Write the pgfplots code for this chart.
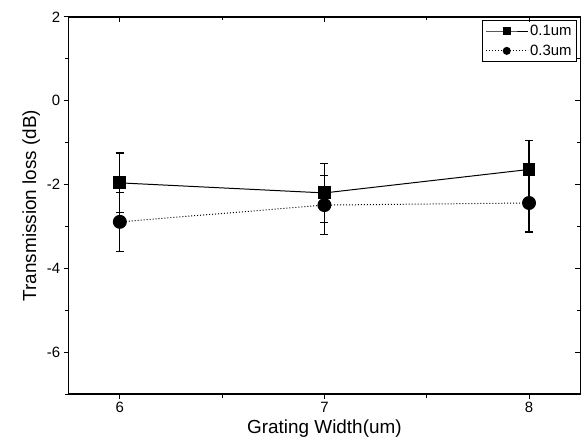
\documentclass[border=0pt]{standalone}
\usepackage{pgfplots}
\pgfplotsset{compat=1.18}
\usepackage{fontspec}
\setmainfont{Liberation Sans}

\pgfplotstableread{
x y e
6 -1.96 0.71
7 -2.20 0.70
8 -1.64 0.69
}\thinone
\pgfplotstableread{
x y e
6 -2.89 0.70
7 -2.49 0.70
8 -2.44 0.69
}\thickone

\begin{document}
\begin{tikzpicture}
\begin{axis}[name=main, scale only axis, width=514pt, height=379pt,
  xmin=5.75, xmax=8.25, ymin=-7, ymax=2,
  xtick={6,7,8}, minor xtick={6.5,7.5},
  ytick={-6,-4,-2,0,2}, minor ytick={-7,-5,-3,-1,1},
  tick align=outside, xtick pos=bottom, ytick pos=left,
  major tick length=5pt, minor tick length=3.5pt,
  every tick/.style={black, line width=1pt},
  axis line style={line width=1.2pt},
  ticklabel style={font=\fontsize{15}{18}\selectfont},
  /pgf/number format/assume math mode=true,
  label style={font=\fontsize{19}{22}\selectfont},
  xlabel={Grating Width(um)}, ylabel={Transmission loss (dB)},
  legend style={at={(rel axis cs:0.994,0.993)}, anchor=north east,
    draw=black, line width=1pt, font=\fontsize{15}{18}\selectfont,
    inner sep=3pt, row sep=4pt},
  legend cell align=left,
  legend image code/.code={\draw[mark repeat=2, mark phase=2, mark size=3.5pt]
    plot coordinates {(0pt,0pt)(21pt,0pt)(42pt,0pt)};},
]
\addplot[black, line width=1pt, mark=square*, mark size=6pt,
  error bars/.cd, y dir=both, y explicit,
  error bar style={line width=1.3pt},
  error mark options={rotate=90, mark size=4pt, line width=1.3pt}]
  table[x=x, y=y, y error=e] {\thinone};
\addlegendentry{0.1um}
\addplot[black, line width=1pt, dash pattern=on 1pt off 2pt, mark=*, mark size=6.5pt, mark options={solid},
  error bars/.cd, y dir=both, y explicit,
  error bar style={line width=1.3pt, solid},
  error mark options={rotate=90, mark size=4pt, line width=1.3pt, solid}]
  table[x=x, y=y, y error=e] {\thickone};
\addlegendentry{0.3um}
\end{axis}
\begin{axis}[at={(main.south west)}, anchor=south west, scale only axis, width=514pt, height=379pt,
  xmin=5.75, xmax=8.25, ymin=-7, ymax=2,
  xtick={6,7,8}, minor xtick={6.5,7.5},
  ytick={-6,-4,-2,0,2}, minor ytick={-7,-5,-3,-1,1},
  tick align=inside, xtick pos=top, ytick pos=right,
  major tick length=5pt, minor tick length=3.5pt,
  every tick/.style={black, line width=1pt},
  axis line style={line width=1.2pt},
  xticklabels={}, yticklabels={}]
\end{axis}
\path (main.south west) ++(-69pt,-51pt) rectangle ++(587pt,447pt);
\end{tikzpicture}
\end{document}
